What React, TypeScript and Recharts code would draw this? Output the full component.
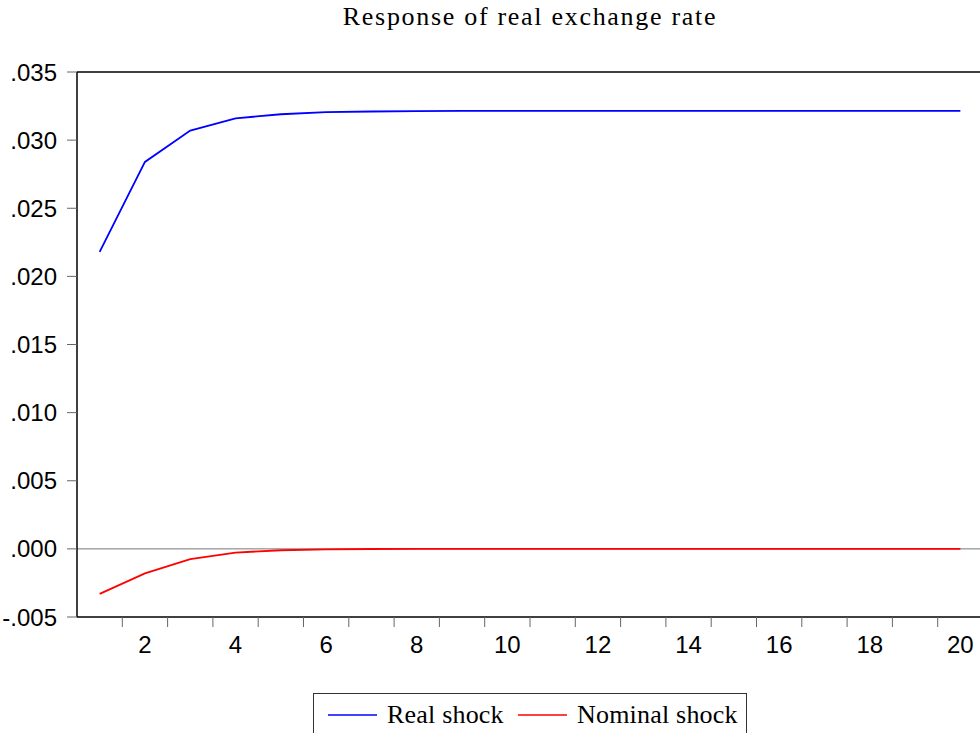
import { LineChart, Line, XAxis, YAxis, ReferenceLine } from "recharts";

const periods = [1, 2, 3, 4, 5, 6, 7, 8, 9, 10, 11, 12, 13, 14, 15, 16, 17, 18, 19, 20];
const realShock = [
  0.0218, 0.0284, 0.0307, 0.0316, 0.0319, 0.03205, 0.0321, 0.03213, 0.03215, 0.03215,
  0.03215, 0.03215, 0.03215, 0.03215, 0.03215, 0.03215, 0.03215, 0.03215, 0.03215, 0.03215,
];
const nominalShock = [
  -0.0033, -0.0018, -0.00076, -0.00027, -0.0001, -0.00003, -0.00001, 0, 0, 0,
  0, 0, 0, 0, 0, 0, 0, 0, 0, 0,
];
const yTicks = [-0.005, 0, 0.005, 0.01, 0.015, 0.02, 0.025, 0.03, 0.035];
const xLabels = [2, 4, 6, 8, 10, 12, 14, 16, 18, 20];
const xBoundaries = [1.5, 2.5, 3.5, 4.5, 5.5, 6.5, 7.5, 8.5, 9.5, 10.5, 11.5, 12.5, 13.5, 14.5, 15.5, 16.5, 17.5, 18.5, 19.5];

const data = periods.map((p, i) => ({ period: p, real: realShock[i], nominal: nominalShock[i] }));
const xTicks = [...xBoundaries, ...xLabels].sort((a, b) => a - b);

const SANS = "'Liberation Sans', Arial, sans-serif";
const SERIF = "'Liberation Serif', 'Times New Roman', serif";

function fmtY(v: number) {
  return v.toFixed(3).replace("0.", ".");
}

// boundaries get a tick mark, even periods get a label
function XTick({ x, y, payload }: { x?: number; y?: number; payload?: { value: number } }) {
  const v = payload?.value ?? 0;
  if (!Number.isInteger(v)) {
    return <line x1={x} x2={x} y1={y} y2={(y ?? 0) + 10} stroke="#666" strokeWidth={1} />;
  }
  return (
    <text x={x} y={(y ?? 0) + 36} textAnchor="middle" fontSize={24} fontFamily={SANS} fill="#000">
      {v}
    </text>
  );
}

export default function App() {
  return (
    <div style={{ position: "absolute", left: 0, top: 0, width: 980, height: 733, overflow: "hidden", background: "#fff" }}>
      <div
        style={{
          position: "absolute",
          left: 77,
          width: 906,
          top: 2,
          textAlign: "center",
          fontFamily: SERIF,
          fontSize: 26,
          letterSpacing: 1.7,
          color: "#000",
        }}
      >
        Response of real exchange rate
      </div>
      <LineChart width={990} height={733} data={data} margin={{ top: 72, right: 7, left: 0, bottom: 0 }}>
        <XAxis
          dataKey="period"
          type="number"
          domain={[0.5, 20.5]}
          ticks={xTicks}
          interval={0}
          tick={<XTick />}
          tickLine={false}
          tickSize={0}
          tickMargin={0}
          axisLine={{ stroke: "#000", strokeWidth: 1.5 }}
          height={116}
        />
        <YAxis
          type="number"
          domain={[-0.005, 0.035]}
          ticks={yTicks}
          interval={0}
          width={77}
          tickFormatter={fmtY}
          tick={{ fontSize: 24, fontFamily: SANS, fill: "#000" }}
          tickSize={10}
          tickMargin={10}
          tickLine={{ stroke: "#666" }}
          axisLine={{ stroke: "#000", strokeWidth: 1.5 }}
        />
        <ReferenceLine y={0.035} stroke="#000" strokeWidth={1.5} />
        <ReferenceLine y={0} stroke="#777" strokeWidth={1} />
        <Line type="linear" dataKey="real" stroke="#0000ff" strokeWidth={1.8} dot={false} isAnimationActive={false} />
        <Line type="linear" dataKey="nominal" stroke="#ff0000" strokeWidth={1.8} dot={false} isAnimationActive={false} />
      </LineChart>
      <div
        style={{
          position: "absolute",
          left: 313,
          top: 693,
          width: 432,
          height: 50,
          border: "1px solid #333",
          background: "#fff",
        }}
      >
        <svg width={432} height={50} style={{ position: "absolute", left: 0, top: 0 }}>
          <line x1={14} x2={63} y1={21} y2={21} stroke="#0000ff" strokeWidth={1.5} />
          <line x1={204} x2={253} y1={21} y2={21} stroke="#ff0000" strokeWidth={1.5} />
          <text x={73} y={29} fontFamily={SERIF} fontSize={26} letterSpacing={0.2} fill="#000">Real shock</text>
          <text x={263} y={29} fontFamily={SERIF} fontSize={26} letterSpacing={0.2} fill="#000">Nominal shock</text>
        </svg>
      </div>
    </div>
  );
}
